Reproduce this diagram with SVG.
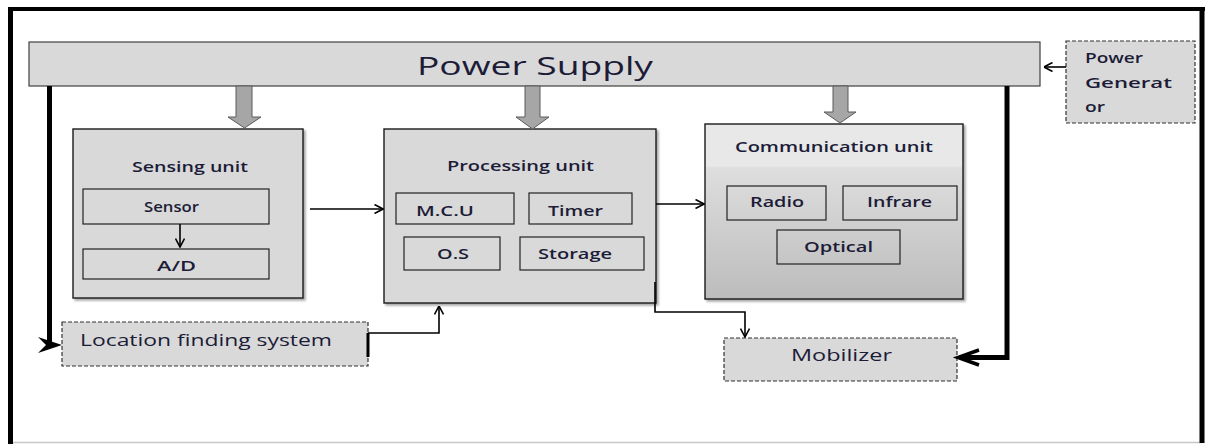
<svg xmlns="http://www.w3.org/2000/svg" width="1210" height="444" viewBox="0 0 1210 444">
<style>
  text { font-family: "Open Sans", "Liberation Sans", sans-serif; fill: #1c1c38; }
  .box { fill: #d9d9d9; stroke: #1a1a1a; stroke-width: 1.4; }
  .sub { fill: #d9d9d9; stroke: #222; stroke-width: 1.2; }
  .subc { fill: none; stroke: #222; stroke-width: 1.2; }
  .dash { fill: #d9d9d9; stroke: #333; stroke-width: 1.2; stroke-dasharray: 4 2; }
  .thin { fill: none; stroke: #000; stroke-width: 1.6; }
  .thick { fill: none; stroke: #000; stroke-width: 5; }
  .blk { fill: #a6a6a6; stroke: #5a5a5a; stroke-width: 1; }
  .lbl { font-size: 15px; font-weight: 600; }
  .big { font-size: 16px; }
</style>
<defs>
  <marker id="open" viewBox="0 0 10 10" refX="9.5" refY="5" markerWidth="10" markerHeight="10" markerUnits="userSpaceOnUse" orient="auto">
    <path d="M1,0.5 L9.5,5 L1,9.5" fill="none" stroke="#000" stroke-width="1.6"/>
  </marker>
  <linearGradient id="commgrad" x1="0" y1="0" x2="0" y2="1">
    <stop offset="0" stop-color="#e8e8e8"/>
    <stop offset="0.24" stop-color="#e8e8e8"/>
    <stop offset="0.25" stop-color="#dedede"/>
    <stop offset="1" stop-color="#bcbcbc"/>
  </linearGradient>
  <filter id="sh" x="-5%" y="-5%" width="115%" height="115%">
    <feDropShadow dx="2" dy="2" stdDeviation="1.2" flood-color="#000" flood-opacity="0.35"/>
  </filter>
</defs>

<rect x="0" y="0" width="1210" height="444" fill="#fff"/>

<g id="frame">
  <line x1="8" y1="442.5" x2="1202" y2="442.5" stroke="#c8c8c8" stroke-width="1.5"/>
  <line x1="10.5" y1="7" x2="10.5" y2="444" stroke="#000" stroke-width="5"/>
  <line x1="8" y1="9" x2="1205" y2="9" stroke="#000" stroke-width="4"/>
  <line x1="1202" y1="7" x2="1202" y2="443" stroke="#000" stroke-width="5"/>
</g>

<g id="power-supply">
  <rect x="29" y="42" width="1011" height="44" fill="#d9d9d9" stroke="#404040" stroke-width="1.2"/>
  <text x="417" y="75" font-size="25" textLength="236" lengthAdjust="spacingAndGlyphs">Power Supply</text>
</g>

<g id="power-generator">
  <rect x="1066" y="41" width="129" height="82" class="dash"/>
  <text class="lbl" x="1085" y="63" textLength="58" lengthAdjust="spacingAndGlyphs">Power</text>
  <text class="lbl" x="1085" y="88" textLength="87" lengthAdjust="spacingAndGlyphs">Generat</text>
  <text class="lbl" x="1085" y="112" textLength="20" lengthAdjust="spacingAndGlyphs">or</text>
</g>

<g id="sensing-unit">
  <rect x="73" y="129" width="230" height="169" class="box" filter="url(#sh)"/>
  <text class="lbl" x="132" y="172" textLength="116" lengthAdjust="spacingAndGlyphs">Sensing unit</text>
  <rect x="83" y="189" width="186" height="35" class="sub"/>
  <text class="lbl" x="144" y="212" textLength="55" lengthAdjust="spacingAndGlyphs">Sensor</text>
  <rect x="83" y="249" width="186" height="30" class="sub"/>
  <text class="lbl" x="157" y="271" textLength="39" lengthAdjust="spacingAndGlyphs">A/D</text>
</g>

<g id="processing-unit">
  <rect x="384" y="129" width="272" height="174" class="box" filter="url(#sh)"/>
  <text class="lbl" x="447" y="171" textLength="147" lengthAdjust="spacingAndGlyphs">Processing unit</text>
  <rect x="396" y="193" width="118" height="31" class="sub"/>
  <text class="lbl" x="416" y="216" textLength="58" lengthAdjust="spacingAndGlyphs">M.C.U</text>
  <rect x="529" y="193" width="103" height="31" class="sub"/>
  <text class="lbl" x="548" y="216" textLength="55" lengthAdjust="spacingAndGlyphs">Timer</text>
  <rect x="404" y="237" width="96" height="33" class="sub"/>
  <text class="lbl" x="437" y="259" textLength="32" lengthAdjust="spacingAndGlyphs">O.S</text>
  <rect x="520" y="237" width="124" height="33" class="sub"/>
  <text class="lbl" x="538" y="259" textLength="74" lengthAdjust="spacingAndGlyphs">Storage</text>
</g>

<g id="communication-unit">
  <rect x="705" y="124" width="258" height="175" fill="url(#commgrad)" stroke="#1a1a1a" stroke-width="1.4" filter="url(#sh)"/>
  <text class="lbl" x="735" y="152" textLength="198" lengthAdjust="spacingAndGlyphs">Communication unit</text>
  <rect x="727" y="186" width="99" height="34" class="subc"/>
  <text class="lbl" x="750" y="207" textLength="54" lengthAdjust="spacingAndGlyphs">Radio</text>
  <rect x="843" y="186" width="114" height="34" class="subc"/>
  <text class="lbl" x="867" y="207" textLength="65" lengthAdjust="spacingAndGlyphs">Infrare</text>
  <rect x="777" y="230" width="123" height="34" class="subc"/>
  <text class="lbl" x="804" y="252" textLength="69" lengthAdjust="spacingAndGlyphs">Optical</text>
</g>

<g id="location-finding-system">
  <rect x="62" y="322" width="306" height="44" class="dash"/>
  <text class="big" x="80" y="346" textLength="252" lengthAdjust="spacingAndGlyphs">Location finding system</text>
</g>

<g id="mobilizer">
  <rect x="724" y="338" width="233" height="43" class="dash"/>
  <text class="big" x="791" y="361" textLength="101" lengthAdjust="spacingAndGlyphs">Mobilizer</text>
</g>

<g id="connectors">
  <polygon class="blk" points="236,86 252,86 252,117 261,117 244.5,128 228,117 236,117"/>
  <polygon class="blk" points="525,86 540,86 540,117 549,117 532.5,129 516,117 525,117"/>
  <polygon class="blk" points="833,86 848,86 848,112 856,112 840,123 824,112 833,112"/>

  <path class="thin" d="M180,224 V247" marker-end="url(#open)"/>
  <path class="thin" d="M310,209 H383" marker-end="url(#open)"/>
  <path class="thin" d="M656,204 H704" marker-end="url(#open)"/>
  <path class="thin" d="M655,282 V312 H745 V337" marker-end="url(#open)"/>
  <path class="thin" d="M368,333 H439 V306" marker-end="url(#open)"/>
  <line x1="368" y1="333" x2="368" y2="357" stroke="#000" stroke-width="3"/>
  <path class="thin" d="M1066,67 H1044" marker-end="url(#open)"/>

  <path class="thick" d="M49.5,86 V346"/>
  <path d="M38,337 L62,345 L38,353 L46,345 Z" fill="#000"/>
  <path class="thick" d="M1007,86 V357.5 H961"/>
  <path d="M979,350 L958,357.5 L979,365" fill="none" stroke="#000" stroke-width="3.5"/>
</g>
</svg>
